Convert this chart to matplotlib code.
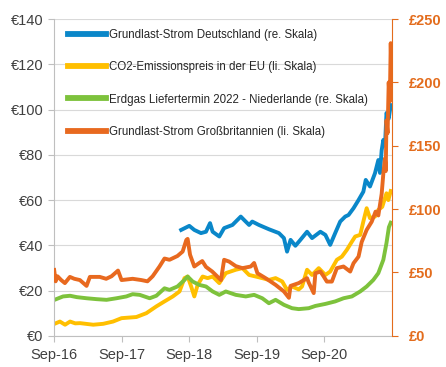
import matplotlib
matplotlib.use('Agg')
import matplotlib.pyplot as plt
import matplotlib.dates as mdates
import pandas as pd
from matplotlib.ticker import FuncFormatter

#================ DATA =========================================================

# Grundlast-Strom Deutschland, EUR/MWh
de_dates = ['2018-07-20', '2018-09-02', '2018-09-29', '2018-11-04', '2018-12-01',
            '2018-12-23', '2019-01-06', '2019-02-11', '2019-03-09', '2019-04-23',
            '2019-06-07', '2019-06-25', '2019-07-22', '2019-08-08', '2019-09-13',
            '2019-11-06', '2019-12-30', '2020-01-26', '2020-02-12', '2020-03-02',
            '2020-03-28', '2020-04-24', '2020-05-30', '2020-06-26', '2020-08-10',
            '2020-09-06', '2020-10-02', '2020-10-29', '2020-11-25', '2020-12-22',
            '2021-01-09', '2021-02-05', '2021-03-04', '2021-03-30', '2021-04-12',
            '2021-05-05', '2021-06-01', '2021-06-19', '2021-06-28', '2021-07-07',
            '2021-07-16', '2021-07-25', '2021-08-02', '2021-08-14', '2021-08-25']
de_power = [46.8, 48.6, 46.8, 45.4, 46.0, 49.8, 46.0, 43.9, 47.6, 49.0,
            52.7, 51.2, 49.0, 50.5, 49.0, 47.1, 45.4, 43.2, 37.2, 42.4,
            39.8, 42.4, 46.0, 43.2, 46.0, 44.6, 40.2, 45.4, 50.5, 52.7,
            53.4, 56.4, 60.0, 63.7, 68.9, 66.0, 71.9, 77.7, 72.0, 82.0,
            86.6, 84.0, 98.5, 96.0, 102.0]

# CO2-Emissionspreis EU, EUR/t
co2_dates = ['2016-09-04', '2016-10-03', '2016-10-31', '2016-11-27', '2016-12-25',
             '2017-01-20', '2017-04-01', '2017-05-25', '2017-07-17', '2017-09-01',
             '2017-11-20', '2018-01-13', '2018-03-08', '2018-04-21', '2018-06-05',
             '2018-07-11', '2018-08-07', '2018-08-24', '2018-09-12', '2018-09-29',
             '2018-10-17', '2018-11-13', '2018-12-10', '2019-01-06', '2019-02-11',
             '2019-03-18', '2019-05-11', '2019-06-16', '2019-07-22', '2019-08-27',
             '2019-10-01', '2019-11-06', '2019-12-12', '2020-01-17', '2020-02-12',
             '2020-03-10', '2020-04-15', '2020-05-03', '2020-05-30', '2020-06-26',
             '2020-08-01', '2020-09-06', '2020-10-02', '2020-11-07', '2020-12-04',
             '2020-12-31', '2021-01-27', '2021-02-14', '2021-03-13', '2021-03-30',
             '2021-04-17', '2021-05-05', '2021-06-01', '2021-06-19', '2021-07-10',
             '2021-08-02', '2021-08-12', '2021-08-25']
co2_price = [5.3, 6.3, 4.9, 6.3, 5.5, 5.6, 4.9, 5.3, 6.3, 7.8,
             8.3, 10.0, 13.0, 15.2, 17.4, 19.6, 25.5, 26.2, 21.8, 17.4,
             22.5, 26.2, 25.5, 26.2, 23.3, 27.7, 29.2, 29.9, 26.9, 26.2,
             25.5, 24.7, 25.5, 24.0, 20.3, 21.8, 20.5, 21.8, 29.2, 26.9,
             29.9, 26.9, 28.4, 33.6, 35.0, 38.0, 41.6, 43.9, 44.6, 50.5,
             56.4, 52.0, 52.7, 55.7, 57.0, 63.0, 60.0, 64.0]

# Erdgas Liefertermin 2022 Niederlande, EUR/MWh
gas_dates = ['2016-09-04', '2016-10-20', '2016-11-27', '2017-01-02', '2017-02-24',
             '2017-04-19', '2017-06-12', '2017-08-05', '2017-09-27', '2017-10-31',
             '2017-12-08', '2018-01-31', '2018-03-08', '2018-04-21', '2018-05-18',
             '2018-06-30', '2018-08-07', '2018-08-24', '2018-09-20', '2018-10-26',
             '2018-12-01', '2019-01-06', '2019-02-11', '2019-03-18', '2019-05-11',
             '2019-07-04', '2019-08-18', '2019-10-01', '2019-11-06', '2019-12-12',
             '2020-01-26', '2020-03-10', '2020-04-15', '2020-06-08', '2020-07-14',
             '2020-09-06', '2020-10-29', '2020-12-13', '2021-01-27', '2021-03-13',
             '2021-04-17', '2021-05-23', '2021-06-19', '2021-07-16', '2021-08-02',
             '2021-08-15', '2021-08-25']
gas_price = [15.9, 17.4, 17.7, 17.1, 16.6, 16.2, 15.9, 16.6, 17.4, 18.4,
             18.1, 16.6, 17.7, 21.0, 20.3, 21.8, 24.7, 26.2, 24.0, 22.5,
             21.8, 19.6, 18.1, 19.6, 18.1, 17.4, 18.1, 16.6, 14.4, 15.9,
             13.7, 12.2, 11.8, 12.2, 13.2, 14.1, 15.2, 16.6, 17.4, 19.6,
             21.8, 24.7, 27.7, 33.6, 41.0, 48.0, 50.0]

# Grundlast-Strom Grossbritannien, GBP/MWh
uk_dates = ['2016-09-02', '2016-09-10', '2016-09-20', '2016-10-10', '2016-10-30',
            '2016-11-26', '2016-12-20', '2017-01-19', '2017-02-24', '2017-03-14',
            '2017-05-06', '2017-06-10', '2017-07-09', '2017-08-13', '2017-09-01',
            '2017-10-31', '2017-12-17', '2018-01-19', '2018-02-16', '2018-03-25',
            '2018-04-21', '2018-05-18', '2018-06-30', '2018-07-28', '2018-08-17',
            '2018-08-24', '2018-09-06', '2018-09-29', '2018-10-26', '2018-11-11',
            '2018-12-01', '2019-01-04', '2019-02-20', '2019-03-09', '2019-04-05',
            '2019-05-11', '2019-06-16', '2019-07-31', '2019-08-18', '2019-09-05',
            '2019-10-19', '2019-12-12', '2020-01-26', '2020-02-22', '2020-03-02',
            '2020-04-15', '2020-05-30', '2020-06-08', '2020-07-05', '2020-07-14',
            '2020-08-10', '2020-08-28', '2020-09-14', '2020-10-11', '2020-11-07',
            '2020-12-13', '2021-01-18', '2021-02-05', '2021-03-04', '2021-03-21',
            '2021-04-17', '2021-05-14', '2021-06-04', '2021-06-19', '2021-07-07',
            '2021-07-16', '2021-07-25', '2021-07-29', '2021-08-02', '2021-08-08',
            '2021-08-14', '2021-08-20', '2021-08-25', '2021-08-29']
uk_power = [52.0, 43.0, 47.0, 44.0, 41.6, 46.5, 45.0, 44.0, 39.4, 46.5,
            46.5, 45.0, 47.0, 51.5, 44.0, 45.0, 44.0, 43.0, 47.0, 54.7,
            61.0, 60.0, 63.0, 66.5, 75.7, 76.5, 64.0, 54.7, 57.5, 59.0,
            54.4, 50.7, 44.0, 60.0, 58.6, 55.0, 53.4, 54.7, 57.5, 49.4,
            45.5, 40.2, 35.0, 30.0, 39.4, 41.6, 45.5, 42.0, 33.7, 49.4,
            50.7, 46.8, 42.8, 42.8, 53.4, 54.7, 50.7, 57.3, 62.5, 74.0,
            83.6, 90.0, 98.0, 95.0, 112.0, 128.0, 140.0, 130.0, 170.0, 160.0,
            200.0, 185.0, 231.0, 205.0]

labels = ['Grundlast-Strom Deutschland (re. Skala)',
          'CO2-Emissionspreis in der EU (li. Skala)',
          'Erdgas Liefertermin 2022 - Niederlande (re. Skala)',
          'Grundlast-Strom Großbritannien (li. Skala)']

#================ PLOT ===========================================================

c_blue, c_yellow, c_green, c_orange = '#0a87c9', '#ffbf00', '#7dc23c', '#e8691f'
c_axis = '#e36c1c'
lw = 2.8

plt.rcParams['font.family'] = ['Liberation Sans', 'DejaVu Sans']

fig = plt.figure(figsize=(4.46, 3.67), dpi=100)
ax = fig.add_axes([0.121, 0.085, 0.758, 0.863])

l1, = ax.plot(pd.to_datetime(de_dates), de_power, color=c_blue, lw=lw)
l2, = ax.plot(pd.to_datetime(co2_dates), co2_price, color=c_yellow, lw=lw)
l3, = ax.plot(pd.to_datetime(gas_dates), gas_price, color=c_green, lw=lw)

ax.set_ylim(0, 140)
ax.set_yticks(range(0, 141, 20))
ax.yaxis.set_major_formatter(FuncFormatter(lambda v, p: '€%d' % v))
ax.grid(axis='y', color='#d9d9d9', lw=0.8)
ax.set_axisbelow(True)
ax.set_xlim(pd.Timestamp('2016-09-01'), pd.Timestamp('2021-09-01'))
ax.set_xticks(pd.to_datetime(['2016-09-01', '2017-09-01', '2018-09-01',
                              '2019-09-01', '2020-09-01']))
ax.xaxis.set_major_formatter(mdates.DateFormatter('%b-%y'))
ax.tick_params(axis='both', labelsize=10.5, colors='#bfbfbf', labelcolor='#404040',
               length=4, width=0.8)
ax.tick_params(axis='x', pad=5)
for s in ['top', 'right']:
    ax.spines[s].set_visible(False)
ax.spines['left'].set_color('#bfbfbf')
ax.spines['bottom'].set_color('#bfbfbf')

ax2 = ax.twinx()
l4, = ax2.plot(pd.to_datetime(uk_dates), uk_power, color=c_orange, lw=lw)
ax2.set_ylim(0, 250)
ax2.set_yticks(range(0, 251, 50))
ax2.yaxis.set_major_formatter(FuncFormatter(lambda v, p: '£%d' % v))
ax2.tick_params(axis='y', labelsize=10.5, colors=c_axis, length=4, width=0.8, pad=8)
for t in ax2.get_yticklabels():
    t.set_fontweight('bold')
for s in ['top', 'left', 'bottom']:
    ax2.spines[s].set_visible(False)
ax2.spines['right'].set_color(c_axis)

leg = ax2.legend([l1, l2, l3, l4], labels, loc='upper left',
                 bbox_to_anchor=(0.02, 0.99), frameon=False, fontsize=8.3,
                 handlelength=3.3, handletextpad=0.3, labelspacing=1.75,
                 borderaxespad=0.2)
for h in leg.get_lines():
    h.set_linewidth(4.2)
for t in leg.get_texts():
    t.set_color('#262626')

fig.savefig('out.png', dpi=100)
